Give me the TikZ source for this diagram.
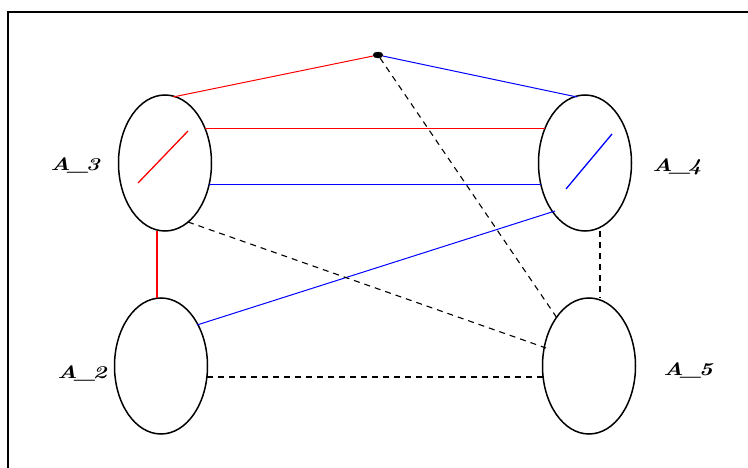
\documentclass[tikz,border=0pt]{standalone}
\usepackage{fontspec}
\usetikzlibrary{shapes.geometric}
\newcommand{\setlab}[1]{\scalebox{1.3}[1]{\fontsize{18}{18}\selectfont\bfseries\itshape #1}}
\begin{document}
\begin{tikzpicture}[x=1pt,y=-1pt,
  set/.style={draw,ellipse,line width=1.5pt,minimum width=93pt,minimum height=136pt,inner sep=0pt},
  lab/.style={inner sep=0pt},
  edge/.style={line width=1pt},
  dsh/.style={line width=1.1pt,dash pattern=on 6pt off 5pt},
  dot/.style={draw,fill=black,ellipse,minimum width=10pt,minimum height=6pt,inner sep=0pt}]
\useasboundingbox (0,0) rectangle (748,468);
\draw[line width=1.6pt] (8,470) -- (8,12) -- (750,12);
\node[set] (a3) at (165,163) {};
\node[set] (a4) at (585,163) {};
\node[set] (a2) at (161,366) {};
\node[set] (a5) at (589,366) {};
\node[dot] (d) at (378,55) {};
\node[lab] (l3) at (75,165) {\setlab{A\kern-2pt\_\kern-2pt3}};
\node[lab] (l4) at (677,167) {\setlab{A\kern-2pt\_\kern-2pt4}};
\node[lab] (l2) at (82,373) {\setlab{A\kern-2pt\_\kern-2pt2}};
\node[lab] (l5) at (688,370) {\setlab{A\kern-2pt\_\kern-2pt5}};
% coordinates on borders
\coordinate (p1) at (173,97);
\coordinate (p2) at (577,97);
\coordinate (p3a) at (205,129); \coordinate (p3b) at (545,129);
\coordinate (p4a) at (209,185); \coordinate (p4b) at (541,185);
\coordinate (p5a) at (197,325); \coordinate (p5b) at (555,211);
\coordinate (p6a) at (157,231); \coordinate (p6b) at (157,298);
\coordinate (p7) at (557,318);
\coordinate (p8a) at (188,222); \coordinate (p8b) at (546,348);
\coordinate (p9a) at (207,377); \coordinate (p9b) at (543,377);
\coordinate (p10a) at (600,231); \coordinate (p10b) at (600,298);
\coordinate (r1) at (138,183); \coordinate (r2) at (188,131);
\coordinate (b1) at (566,189); \coordinate (b2) at (612,134);
\draw[edge,red] (d) -- (p1);
\draw[edge,blue] (d) -- (p2);
\draw[edge,red] (p3a) -- (p3b);
\draw[edge,blue] (p4a) -- (p4b);
\draw[edge,blue] (p5a) -- (p5b);
\draw[edge,red,line width=1.5pt] (p6a) -- (p6b);
\draw[dsh] (d) -- (p7);
\draw[dsh] (p8a) -- (p8b);
\draw[dsh] (p9a) -- (p9b);
\draw[dsh,line width=2.2pt] (p10a) -- (p10b);
\draw[edge,red,line width=1.3pt] (r1) -- (r2);
\draw[edge,blue,line width=1.3pt] (b1) -- (b2);
\end{tikzpicture}
\end{document}
